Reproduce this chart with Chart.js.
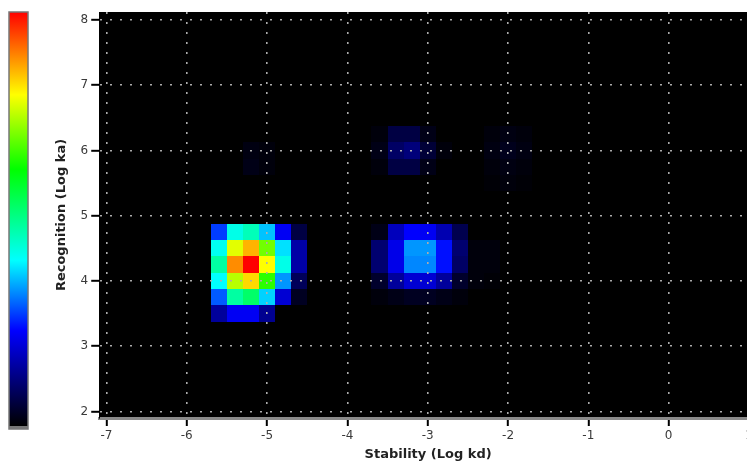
<!DOCTYPE html>
<html>
<head>
<meta charset="utf-8">
<script src="https://cdn.jsdelivr.net/npm/chart.js@4"></script>
<style>
html, body { margin: 0; padding: 0; background: #fff; overflow: hidden; }
#wrap { width: 770px; height: 466px; }
</style>
</head>
<body>
<div id="wrap"><canvas id="mapa"></canvas></div>
<script>
// bin size of the map (log units)
const binX = 0.2;
const binY = 0.25;

// colour scale, 0 = black ... 1 = red
const scaleStops = [0, 0.23, 0.40, 0.62, 0.80, 1];
const scaleColors = [[0, 0, 0], [0, 0, 255], [0, 255, 255], [0, 255, 0], [255, 255, 0], [255, 0, 0]];

const xTicks = [-7, -6, -5, -4, -3, -2, -1, 0, 1];
const yTicks = [2, 3, 4, 5, 6, 7, 8];

// main peak
const peakA_x = [-5.6, -5.4, -5.2, -5.0, -4.8, -4.6];
const peakA_y = [4.75, 4.5, 4.25, 4.0, 3.75, 3.5];
const peakA_v = [
    [0.27, 0.42, 0.46, 0.36, 0.22, 0.06],
    [0.41, 0.78, 0.86, 0.70, 0.38, 0.15],
    [0.48, 0.89, 1.00, 0.80, 0.42, 0.15],
    [0.40, 0.75, 0.83, 0.65, 0.33, 0.08],
    [0.29, 0.48, 0.53, 0.37, 0.19, 0.03],
    [0.14, 0.22, 0.22, 0.13, 0.00, 0.00]
];

// second peak
const peakB_x = [-3.6, -3.4, -3.2, -3.0, -2.8, -2.6];
const peakB_y = [4.75, 4.5, 4.25, 4.0, 3.75];
const peakB_v = [
    [0.02, 0.17, 0.23, 0.22, 0.16, 0.07],
    [0.10, 0.21, 0.33, 0.33, 0.24, 0.10],
    [0.10, 0.21, 0.32, 0.32, 0.24, 0.09],
    [0.04, 0.14, 0.19, 0.19, 0.14, 0.04],
    [0.01, 0.02, 0.03, 0.03, 0.02, 0.01]
];

// faint spots
const peakC_x = [-3.6, -3.4, -3.2, -3.0, -2.8];
const peakC_y = [6.25, 6.0, 5.75];
const peakC_v = [
    [0.01, 0.06, 0.06, 0.02, 0.00],
    [0.02, 0.09, 0.11, 0.05, 0.01],
    [0.01, 0.06, 0.06, 0.02, 0.00]
];

const peakD_x = [-2.2, -2.0, -1.8];
const peakD_y = [6.25, 6.0, 5.75, 5.5];
const peakD_v = [
    [0.01, 0.015, 0.01],
    [0.015, 0.025, 0.015],
    [0.01, 0.015, 0.01],
    [0.005, 0.01, 0.005]
];

const peakE_x = [-5.2, -5.0];
const peakE_y = [6.0, 5.75];
const peakE_v = [
    [0.015, 0.01],
    [0.02, 0.01]
];

const peakF_x = [-2.4, -2.2];
const peakF_y = [4.5, 4.25, 4.0];
const peakF_v = [
    [0.01, 0.01],
    [0.01, 0.01],
    [0.01, 0.005]
];

function montarCelulas(xs, ys, vs) {
    const out = [];
    ys.forEach(function (y, i) {
        xs.forEach(function (x, j) {
            if (vs[i][j] > 0) out.push({ x: x, y: y, v: vs[i][j] });
        });
    });
    return out;
}

const celulas = [].concat(
    montarCelulas(peakA_x, peakA_y, peakA_v),
    montarCelulas(peakB_x, peakB_y, peakB_v),
    montarCelulas(peakC_x, peakC_y, peakC_v),
    montarCelulas(peakD_x, peakD_y, peakD_v),
    montarCelulas(peakE_x, peakE_y, peakE_v),
    montarCelulas(peakF_x, peakF_y, peakF_v)
);

function corDe(v) {
    v = Math.max(0, Math.min(1, v));
    for (let i = 1; i < scaleStops.length; i++) {
        if (v <= scaleStops[i]) {
            const t = (v - scaleStops[i - 1]) / (scaleStops[i] - scaleStops[i - 1]);
            const a = scaleColors[i - 1], b = scaleColors[i];
            const c = a.map(function (k, n) { return Math.round(k + (b[n] - k) * t); });
            return 'rgb(' + c.join(',') + ')';
        }
    }
    return 'rgb(255,0,0)';
}

// black plot area + heat cells, drawn before the grid so the dots sit on top
const fundoMapa = {
    id: 'fundoMapa',
    beforeDraw(chart) {
        const { ctx, chartArea: a, scales } = chart;
        ctx.save();
        ctx.fillStyle = '#000';
        ctx.fillRect(a.left, a.top, a.right - a.left, a.bottom - a.top);
        chart.data.datasets[0].data.forEach(function (c) {
            const x0 = scales.x.getPixelForValue(c.x - binX / 2);
            const x1 = scales.x.getPixelForValue(c.x + binX / 2);
            const y0 = scales.y.getPixelForValue(c.y + binY / 2);
            const y1 = scales.y.getPixelForValue(c.y - binY / 2);
            ctx.fillStyle = corDe(c.v);
            ctx.fillRect(Math.round(x0), Math.round(y0), Math.round(x1) - Math.round(x0), Math.round(y1) - Math.round(y0));
        });
        ctx.restore();
    }
};

// colour bar on the left
const barraCor = {
    id: 'barraCor',
    afterDraw(chart) {
        const ctx = chart.ctx;
        const a = chart.chartArea;
        const left = 9, w = 19, top = a.top, bottom = a.bottom + 11;
        ctx.save();
        const g = ctx.createLinearGradient(0, top, 0, bottom - 3);
        scaleStops.forEach(function (s, i) {
            g.addColorStop(1 - s, 'rgb(' + scaleColors[i].join(',') + ')');
        });
        ctx.fillStyle = g;
        ctx.fillRect(left, top, w, bottom - top);
        ctx.fillStyle = '#777';
        ctx.fillRect(left, bottom - 3, w, 3);
        ctx.strokeStyle = '#777';
        ctx.lineWidth = 1.5;
        ctx.strokeRect(left, top, w, bottom - top);
        ctx.restore();
    }
};

Chart.defaults.font.family = 'DejaVu Sans';

new Chart(document.getElementById('mapa'), {
    type: 'scatter',
    data: {
        datasets: [{
            data: celulas,
            pointRadius: 0,
            pointHoverRadius: 0
        }]
    },
    options: {
        responsive: true,
        maintainAspectRatio: false,
        animation: false,
        events: [],
        layout: { padding: { left: 50, top: 12, right: 13, bottom: 0 } },
        plugins: {
            legend: { display: false },
            tooltip: { enabled: false }
        },
        scales: {
            x: {
                type: 'linear',
                min: -7.09,
                max: 1.1,
                afterBuildTicks: function (s) { s.ticks = xTicks.map(function (v) { return { value: v }; }); },
                ticks: { color: '#3a3a3a', font: { size: 12 }, padding: 3, maxRotation: 0 },
                grid: {
                    color: '#acacac', lineWidth: 1.6,
                    tickColor: '#000', tickLength: 8, tickWidth: 2, tickBorderDash: []
                },
                border: { color: '#8a8a8a', width: 3, dash: [2, 8] },
                title: {
                    display: true, text: 'Stability (Log kd)', color: '#222',
                    font: { size: 13, weight: 'bold' }, padding: { top: 0, bottom: 4 }
                }
            },
            y: {
                type: 'linear',
                min: 1.9,
                max: 8.12,
                afterBuildTicks: function (s) { s.ticks = yTicks.map(function (v) { return { value: v }; }); },
                ticks: { color: '#3a3a3a', font: { size: 12 }, padding: 3 },
                grid: {
                    color: '#acacac', lineWidth: 1.6,
                    tickColor: '#000', tickLength: 8, tickWidth: 2, tickBorderDash: []
                },
                border: { color: '#000', width: 1, dash: [2, 8] },
                title: {
                    display: true, text: 'Recognition (Log ka)', color: '#222',
                    font: { size: 13, weight: 'bold' }, padding: { top: 4, bottom: 8 }
                }
            }
        }
    },
    plugins: [fundoMapa, barraCor]
});
</script>
</body>
</html>
